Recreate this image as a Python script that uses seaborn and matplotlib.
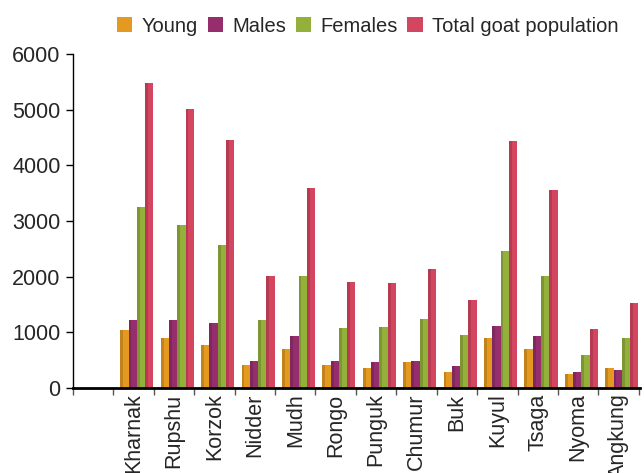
import matplotlib
matplotlib.use("Agg")
import matplotlib.pyplot as plt
import seaborn as sns
import pandas as pd
import numpy as np

villages = ["Kharnak", "Rupshu", "Korzok", "Nidder", "Mudh", "Rongo", "Punguk",
            "Chumur", "Buk", "Kuyul", "Tsaga", "Nyoma", "Angkung"]
young = [1040, 900, 770, 410, 700, 410, 360, 460, 280, 900, 700, 250, 360]
males = [1220, 1220, 1165, 480, 930, 480, 465, 480, 390, 1110, 930, 285, 320]
females = [3260, 2920, 2560, 1220, 2005, 1075, 1090, 1235, 950, 2455, 2005, 590, 895]
total = [5485, 5020, 4460, 2020, 3600, 1900, 1880, 2130, 1575, 4445, 3565, 1055, 1520]

series = ["Young", "Males", "Females", "Total goat population"]
colors = ["#E49A20", "#962E6E", "#93B03A", "#D44560"]

df = pd.DataFrame({
    "village": villages * 4,
    "group": sum([[s] * len(villages) for s in series], []),
    "count": young + males + females + total,
})

sns.set_theme(style="white")
plt.rcParams["font.family"] = ["Liberation Sans", "DejaVu Sans"]

fig = plt.figure(figsize=(6.44, 4.73), dpi=100)
ax = fig.add_axes([73 / 644, 1 - 388 / 473, 567 / 644, 334 / 473])

sns.barplot(data=df, x="village", y="count", hue="group", order=villages,
            hue_order=series, palette=colors, width=0.82, saturation=1,
            linewidth=0, ax=ax, legend=True)

# soft bevel: darker left strip on each bar
for p in list(ax.patches):
    if p.get_height() <= 0:
        continue
    x0, w, h = p.get_x(), p.get_width(), p.get_height()
    fc = p.get_facecolor()
    dark = tuple(c * 0.85 for c in fc[:3])
    ax.add_patch(plt.Rectangle((x0, 0), w * 0.35, h, facecolor=dark,
                               linewidth=0, zorder=p.get_zorder()))

shift = 0.08
n = len(villages)
ax.set_xlim(-1.5 - shift, n - 0.5 - shift + 0.03)
ax.set_ylim(0, 6000)
ax.set_yticks(range(0, 6001, 1000))
ax.set_xticks(np.arange(n) - shift)
ax.set_xticklabels(villages, rotation=90, fontsize=15.5)
ax.set_xticks(np.arange(-1, n + 1) - 0.5 - shift, minor=True)
ax.tick_params(axis="x", which="major", length=0, pad=4)
ax.tick_params(axis="x", which="minor", direction="out", length=5, width=1,
               color="#555555", bottom=True)
ax.tick_params(axis="y", direction="out", length=5, width=1, color="black",
               left=True, labelsize=15.5, pad=4)
ax.set_xlabel("")
ax.set_ylabel("")
for s in ["top", "right"]:
    ax.spines[s].set_visible(False)
ax.spines["left"].set_color("black")
ax.spines["left"].set_linewidth(1)
ax.spines["bottom"].set_color("black")
ax.spines["bottom"].set_linewidth(2)

handles, labels = ax.get_legend_handles_labels()
ax.legend_.remove()
fig.legend(handles, labels, loc="center", bbox_to_anchor=(0.571, 0.945),
           ncol=4, frameon=False, fontsize=14.5, handlelength=0.75,
           handleheight=0.75, handletextpad=0.45, columnspacing=0.5)

fig.savefig("out.png", dpi=100)
